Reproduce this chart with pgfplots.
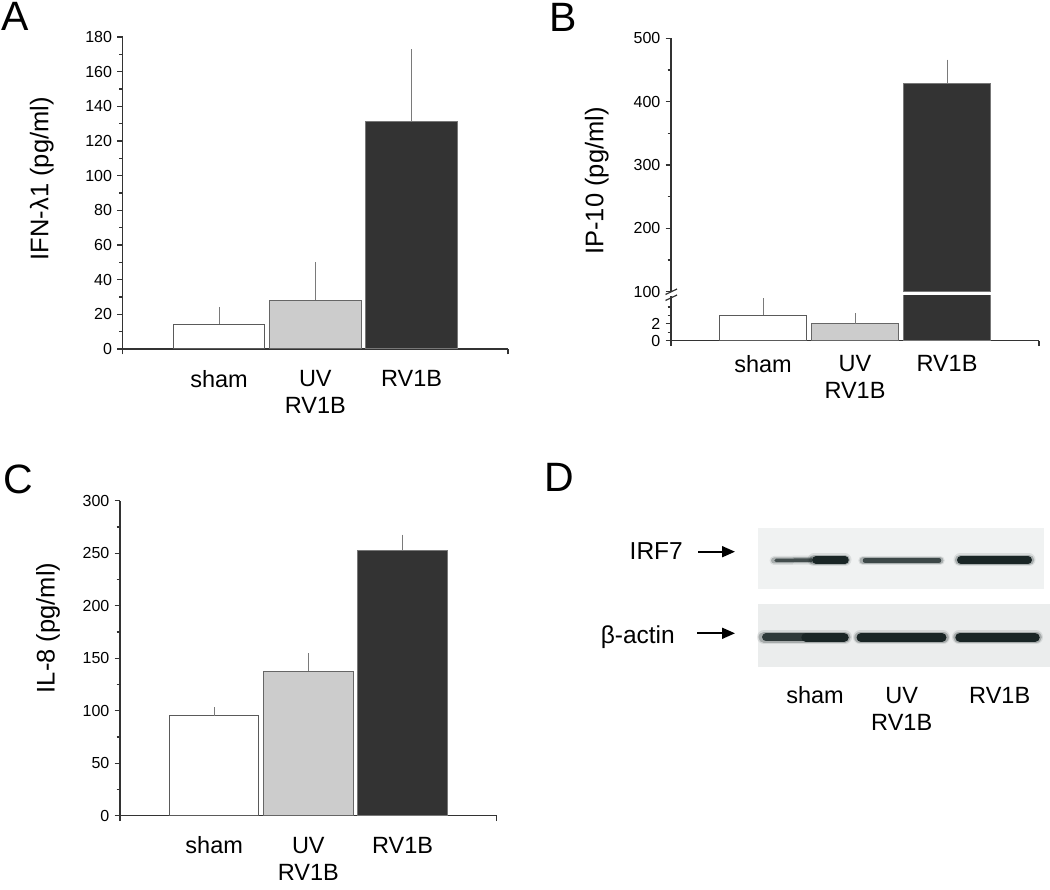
\documentclass[border=0pt]{standalone}
\usepackage{fontspec}
\setmainfont{Liberation Sans}
\usepackage{pgfplots}
\pgfplotsset{compat=1.18}
\usetikzlibrary{arrows.meta}

\definecolor{axc}{HTML}{333333}
\definecolor{errc}{HTML}{7A7A7A}
\definecolor{edgeW}{HTML}{5A5A5A}
\definecolor{edgeG}{HTML}{666666}
\definecolor{edgeD}{HTML}{777777}
\definecolor{gfill}{HTML}{CCCCCC}
\definecolor{dfill}{HTML}{333333}
\definecolor{blotA}{HTML}{F0F2F2}
\definecolor{blotB}{HTML}{EBEDED}
\definecolor{band}{HTML}{1A2626}

\newcommand{\tlfont}{\fontsize{16}{16}\selectfont}

\pgfplotsset{
  panel/.style={
    scale only axis,
    anchor=south west,
    axis x line*=bottom, axis y line*=left,
    axis line style={axc, line width=1.3pt},
    every tick/.style={axc, line width=1.3pt},
    tick align=outside,
    major tick length=5.5pt, minor tick length=3.5pt,
    xmin=0, xmax=4,
    xtick={0,4}, xticklabels={,,},
    extra x ticks={1,2,3},
    extra x tick labels={sham,{UV\\RV1B},RV1B},
    extra x tick style={major tick length=0pt},
    xticklabel style={align=center, font=\fontsize{23.5}{27}\selectfont, inner sep=0pt},
    /pgf/number format/assume math mode=true,
    yticklabel={\tlfont\pgfmathprintnumber{\tick}},
    yticklabel style={inner sep=0pt, xshift=-5pt},
    ylabel style={font=\fontsize{25.5}{25.5}\selectfont, anchor=center},
  },
  barW/.style={ybar, bar width=0.95, bar shift=0pt, fill=white, draw=edgeW, line width=1pt},
  barG/.style={ybar, bar width=0.95, bar shift=0pt, fill=gfill, draw=edgeG, line width=1pt},
  barD/.style={ybar, bar width=0.95, bar shift=0pt, fill=dfill, draw=edgeD, line width=1pt},
  errs/.style={error bars/.cd, y dir=plus, y explicit,
    error bar style={errc, line width=1pt},
    error mark options={errc, line width=1pt, mark size=2.8pt}},
  bandA/.style={band, opacity=0.10, line cap=round},
  bandB/.style={band, opacity=0.25, line cap=round},
  bandC/.style={band, line cap=round},
}

\begin{document}
\begin{tikzpicture}
\useasboundingbox (0pt,0pt) rectangle (1050pt,890pt);

% ---------------- Panel A ----------------
\begin{axis}[panel, at={(122.7pt,541pt)}, width=385.3pt, height=312pt,
  ymin=0, ymax=180, ytick={0,20,...,180}, minor ytick={10,30,...,170},
  xticklabel style={yshift=-21pt},
  ylabel={IFN-λ1 (pg/ml)},
  ylabel style={at={(axis description cs:-0.21,0.546)}}]
\addplot[barW, errs] coordinates {(1,14.4) +- (0,8.3)};
\addplot[barG, errs] coordinates {(2,28.1) +- (0,20.2)};
\addplot[barD, errs] coordinates {(3,131.0) +- (0,40.4)};
\end{axis}

% ---------------- Panel B (lower) ----------------
\begin{axis}[panel, at={(671pt,549.4pt)}, width=368pt, height=44.6pt,
  ymin=0, ymax=5.3, ytick={0,2}, minor ytick={1,3,4},
  xticklabel style={yshift=-14.4pt}]
\addplot[barW, errs] coordinates {(1,3.0) +- (0,1.7)};
\addplot[barG, errs] coordinates {(2,2.0) +- (0,0.9)};
\addplot[barD] coordinates {(3,429)};
\end{axis}

% ---------------- Panel B (upper) ----------------
\begin{axis}[panel, at={(671pt,598.3pt)}, width=368pt, height=253.4pt,
  axis x line=none, xtick=\empty, extra x ticks={},
  ymin=100, ymax=500, ytick={100,200,...,500}, minor ytick={150,250,...,450},
  ylabel={IP-10 (pg/ml)},
  ylabel style={at={(axis description cs:-0.202,0.437)}}]
\addplot[barD, errs] coordinates {(3,429) +- (0,33)};
\end{axis}

% ---------------- Panel C ----------------
\begin{axis}[panel, at={(120pt,74.3pt)}, width=376.7pt, height=315pt,
  ymin=0, ymax=300, ytick={0,50,...,300}, minor ytick={25,75,...,275},
  xticklabel style={yshift=-21pt},
  ylabel={IL-8 (pg/ml)},
  ylabel style={at={(axis description cs:-0.191,0.596)}}]
\addplot[barW, errs] coordinates {(1,95.2) +- (0,5.4)};
\addplot[barG, errs] coordinates {(2,137.8) +- (0,14.2)};
\addplot[barD, errs] coordinates {(3,252.4) +- (0,12.7)};
\end{axis}

% ---------------- Overlay: letters, break marks, panel D ----------------
\begin{axis}[scale only axis, anchor=south west, at={(0pt,0pt)},
  width=1050pt, height=890pt, hide axis, clip=false,
  xmin=0, xmax=1050, ymin=0, ymax=890, y dir=reverse]
% panel letters
\node[anchor=north west, inner sep=0pt, font=\fontsize{41}{41}\selectfont] at (1.5,2) {A};
\node[anchor=north west, inner sep=0pt, font=\fontsize{41}{41}\selectfont] at (549,3) {B};
\node[anchor=north west, inner sep=0pt, font=\fontsize{41}{41}\selectfont] at (3,465) {C};
\node[anchor=north west, inner sep=0pt, font=\fontsize{41}{41}\selectfont] at (544,463) {D};
% axis break marks (panel B)
\addplot[axc, line width=1.2pt] coordinates {(665.5,294.5) (677,289)};
\addplot[axc, line width=1.2pt] coordinates {(665.5,300.5) (677,295)};
% blot backgrounds
\addplot[fill=blotA, draw=none] coordinates {(757.7,527.7) (1044.3,527.7) (1044.3,589.3) (757.7,589.3)};
\addplot[fill=blotB, draw=none] coordinates {(757.7,604) (1050,604) (1050,666.7) (757.7,666.7)};
% IRF7 bands: sham (faint thin left, dark thick right)
\addplot[bandA, line width=9pt] coordinates {(774,560.5) (812,560)};
\addplot[bandB, line width=6pt] coordinates {(774,560.5) (812,560)};
\addplot[bandC, opacity=0.7, line width=3.5pt] coordinates {(776,560.5) (812,560)};
\addplot[bandA, line width=13pt] coordinates {(814,560) (845,560)};
\addplot[bandB, line width=10pt] coordinates {(814,560) (845,560)};
\addplot[bandC, line width=7.5pt] coordinates {(816,560) (845,560)};
% IRF7 UV
\addplot[bandA, line width=9.5pt] coordinates {(863,560.5) (940,560.5)};
\addplot[bandB, line width=7pt] coordinates {(863,560.5) (940,560.5)};
\addplot[bandC, opacity=0.75, line width=4.5pt] coordinates {(865,560.5) (939,560.5)};
% IRF7 RV1B
\addplot[bandA, line width=13pt] coordinates {(960,560) (1029,560)};
\addplot[bandB, line width=10.5pt] coordinates {(960,560) (1029,560)};
\addplot[bandC, line width=8pt] coordinates {(961,560) (1028,560)};
% beta-actin bands
\addplot[bandA, line width=14pt] coordinates {(764,637.3) (845,637.3)};
\addplot[bandB, line width=11pt] coordinates {(764,637.3) (845,637.3)};
\addplot[bandC, opacity=0.85, line width=8pt] coordinates {(766,637.3) (810,637.3)};
\addplot[bandC, line width=9.5pt] coordinates {(806,637.3) (844,637.3)};
\addplot[bandA, line width=14pt] coordinates {(860,637.5) (943,637.5)};
\addplot[bandB, line width=11.5pt] coordinates {(860,637.5) (943,637.5)};
\addplot[bandC, line width=9pt] coordinates {(861,637.5) (942,637.5)};
\addplot[bandA, line width=14pt] coordinates {(959,637.3) (1036,637.3)};
\addplot[bandB, line width=11.5pt] coordinates {(959,637.3) (1036,637.3)};
\addplot[bandC, line width=9.5pt] coordinates {(960,637.3) (1035,637.3)};
% arrows
\addplot[black, line width=1.8pt, -{Triangle[length=13pt,width=11pt]}] coordinates {(698,551.7) (735,551.7)};
\addplot[black, line width=1.8pt, -{Triangle[length=13pt,width=11pt]}] coordinates {(697,633.3) (735,633.3)};
% labels
\node[anchor=base east, inner sep=0pt, font=\fontsize{24.5}{24.5}\selectfont] at (683,560) {IRF7};
\node[anchor=base east, inner sep=0pt, font=\fontsize{24.5}{24.5}\selectfont] at (675,644) {β-actin};
\node[anchor=north, inner sep=0pt, align=center, font=\fontsize{23.5}{27}\selectfont] at (815,686.7) {sham};
\node[anchor=north, inner sep=0pt, align=center, font=\fontsize{23.5}{27}\selectfont] at (901.7,686.7) {UV\\RV1B};
\node[anchor=north, inner sep=0pt, align=center, font=\fontsize{23.5}{27}\selectfont] at (999.7,686.7) {RV1B};
\end{axis}
\end{tikzpicture}
\end{document}
